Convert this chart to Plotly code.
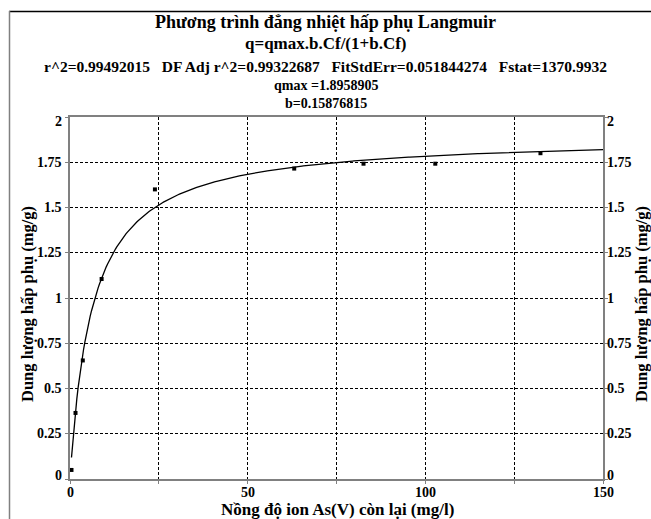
import numpy as np
import plotly.graph_objects as go

# Data
cf = [0.42, 1.55, 3.6, 8.9, 23.9, 63.1, 82.6, 102.8, 132.4]
q = [0.05, 0.365, 0.655, 1.105, 1.60, 1.715, 1.742, 1.742, 1.80]

# Langmuir fit parameters shown in the chart
qmax = 1.8958905
b = 0.15876815

x_ticks = [0, 25, 50, 75, 100, 125, 150]
x_ticktext = ["0", "", "50", "", "100", "", "150"]
y_ticks = [0, 0.25, 0.5, 0.75, 1, 1.25, 1.5, 1.75, 2]
y_ticktext = ["0", "0.25", "0.5", "0.75", "1", "1.25", "1.5", "1.75", "2"]

SP = "&nbsp;&nbsp;&nbsp;"
title_lines = [
    ("Phương trình đẳng nhiệt hấp phụ Langmuir", 18, 22),
    ("q=qmax.b.Cf/(1+b.Cf)", 17, 44),
    ("r^2=0.99492015" + SP + "DF Adj r^2=0.99322687" + SP + "FitStdErr=0.051844274" + SP + "Fstat=1370.9932", 15.5, 66),
    ("qmax =1.8958905", 14, 86),
    ("b=0.15876815", 14, 103),
]

W, H = 651, 519
L, R, T, B = 70, 48, 117, 40
PW, PH = W - L - R, H - T - B

def px(xp):
    return (xp - L) / PW

def py(yp):
    return (H - B - yp) / PH

FONT = "Liberation Serif"

def bold(s):
    return "<b>%s</b>" % s if s else ""

xc = np.linspace(cf[0], 150, 400)
qc = qmax * b * xc / (1 + b * xc)

fig = go.Figure()
fig.add_trace(go.Scatter(x=xc, y=qc, mode="lines",
                         line=dict(color="black", width=1.3), hoverinfo="skip"))
fig.add_trace(go.Scatter(x=cf, y=q, mode="markers",
                         marker=dict(symbol="square", size=4, color="black")))
fig.add_trace(go.Scatter(x=[None], y=[None], yaxis="y2", showlegend=False))

def axis_common():
    return dict(
        showline=True, linecolor="#808080", linewidth=1.5,
        ticks="outside", ticklen=3, tickcolor="#808080", tickwidth=1,
        showgrid=True, gridcolor="black", gridwidth=1, griddash="3px,2px",
        zeroline=False, showticklabels=False,
    )

xa = axis_common()
xa.update(range=[0, 150], tickvals=x_ticks, mirror=True)
ya = axis_common()
ya.update(range=[0, 2], tickvals=y_ticks)
ya2 = axis_common()
ya2.update(range=[0, 2], tickvals=y_ticks, overlaying="y", side="right", showgrid=False)

fig.update_layout(
    width=W, height=H,
    margin=dict(l=L, r=R, t=T, b=B),
    paper_bgcolor="white", plot_bgcolor="white",
    showlegend=False,
    font=dict(family=FONT, color="black"),
    xaxis=xa, yaxis=ya, yaxis2=ya2,
)

annotations = []
tick_font = dict(family=FONT, size=14, color="black")
# tick labels placed on the axes' own data scales
for v, t in zip(x_ticks, x_ticktext):
    if t:
        annotations.append(dict(text=bold(t), xref="x", yref="paper", x=v, y=py(492),
                                xanchor="center", yanchor="middle", showarrow=False,
                                font=tick_font))
ymin, ymax = y_ticks[0], y_ticks[-1]
for v, t in zip(y_ticks, y_ticktext):
    shift = 4 if v == ymin else (-4 if v == ymax else 0)
    annotations.append(dict(text=bold(t), xref="paper", yref="y", x=px(64), y=v,
                            yshift=shift, xanchor="right", yanchor="middle",
                            showarrow=False, font=tick_font))
    annotations.append(dict(text=bold(t), xref="paper", yref="y2", x=px(605), y=v,
                            yshift=shift, xanchor="left", yanchor="middle",
                            showarrow=False, font=tick_font))

for text, size, ycen in title_lines:
    annotations.append(dict(text=bold(text), xref="paper", yref="paper",
                            x=px(W / 2), y=py(ycen), xanchor="center", yanchor="middle",
                            showarrow=False,
                            font=dict(family=FONT, size=size, color="black")))
annotations.append(dict(text=bold("Nồng độ ion As(V) còn lại (mg/l)"), xref="paper", yref="paper",
                        x=px(337), y=py(509.5), xanchor="center", yanchor="middle",
                        showarrow=False,
                        font=dict(family=FONT, size=17, color="black")))
for xc_t in (27, 641):
    annotations.append(dict(text=bold("Dung lượng hấp phụ (mg/g)"), xref="paper", yref="paper",
                            x=px(xc_t), y=py(304), xanchor="center", yanchor="middle",
                            textangle=-90, showarrow=False,
                            font=dict(family=FONT, size=16.5, color="black")))
fig.update_layout(annotations=annotations)

# outer frame (top and left edges visible in the crop)
fig.add_shape(type="line", xref="paper", yref="paper",
              x0=px(9), x1=px(651), y0=py(11.5), y1=py(11.5),
              line=dict(color="black", width=1.5))
fig.add_shape(type="line", xref="paper", yref="paper",
              x0=px(9.5), x1=px(9.5), y0=py(11), y1=py(519),
              line=dict(color="#808080", width=1.5))

fig.write_html("out.html")
